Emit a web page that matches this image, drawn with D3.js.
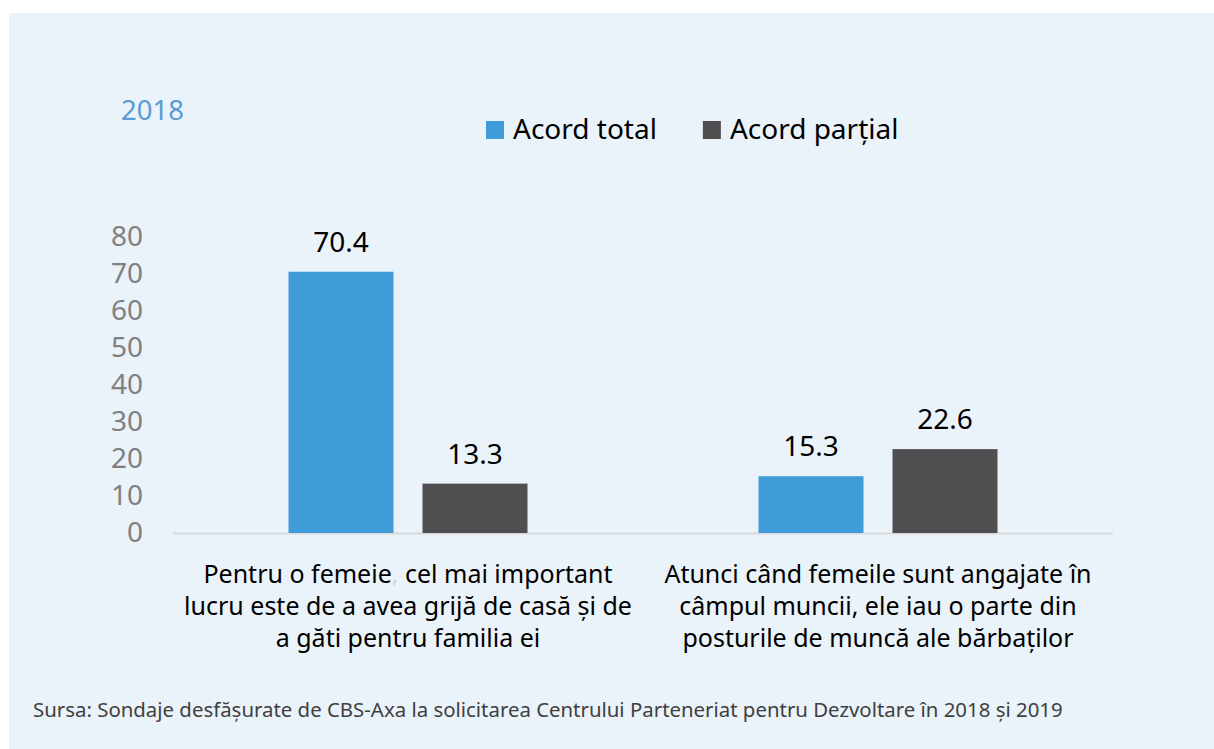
<!DOCTYPE html>
<html>
<head>
<meta charset="utf-8">
<script src="https://cdn.jsdelivr.net/npm/d3@7"></script>
<style>
  body { margin: 0; background: #fff; }
  svg { display: block; font-family: "Noto Sans", sans-serif; }
</style>
</head>
<body>
<div id="chart"></div>
<script>
// data
var categories = ["cat1", "cat2"]
var categoryLines = [
    ["Pentru o femeie, cel mai important", "lucru este de a avea grijă de casă și de", "a găti pentru familia ei"],
    ["Atunci când femeile sunt angajate în", "câmpul muncii, ele iau o parte din", "posturile de muncă ale bărbaților"]
]
var seriesNames = ["Acord total", "Acord parțial"]
var acordTotal = [70.4, 15.3]
var acordPartial = [13.3, 22.6]
var yTicks = [0, 10, 20, 30, 40, 50, 60, 70, 80]
var colors = ["#409cd9", "#4f4f51"]

var W = 1214, H = 749
var svg = d3.select("#chart").append("svg")
    .attr("width", W)
    .attr("height", H)

// panel background
svg.append("rect")
    .attr("x", 9).attr("y", 13)
    .attr("width", W - 9).attr("height", H - 13)
    .attr("fill", "#eaf2fa")

// title
svg.append("text")
    .attr("x", 121).attr("y", 120)
    .style("font-size", "27.5px")
    .attr("fill", "#5b9bd5")
    .text("2018")

// scales
var x0 = d3.scaleBand()
    .domain(categories)
    .range([173, 1113])
    .paddingInner(0.4915)
    .paddingOuter(0.4915 / 2)
var x1 = d3.scaleBand()
    .domain(seriesNames)
    .range([0, x0.bandwidth()])
    .paddingInner(0.2164)
var y = d3.scaleLinear()
    .domain([0, 80])
    .range([533, 236.1])

// y axis
var yAxis = svg.append("g")
    .attr("transform", "translate(146,0)")
    .call(d3.axisLeft(y).tickValues(yTicks).tickSize(0).tickPadding(3))
yAxis.select(".domain").remove()
yAxis.selectAll("text")
    .style("font-family", "Noto Sans")
    .style("font-size", "28px")
    .attr("fill", "#808080")

// baseline
svg.append("line")
    .attr("x1", 173).attr("x2", 1113)
    .attr("y1", y(0) + 0.5).attr("y2", y(0) + 0.5)
    .attr("stroke", "#d9d9d9")
    .attr("stroke-width", 2)

// bars
var rows = categories.map((c, i) => ({
    cat: c,
    values: [
        { name: seriesNames[0], value: acordTotal[i], color: colors[0] },
        { name: seriesNames[1], value: acordPartial[i], color: colors[1] }
    ]
}))

var groups = svg.selectAll(".grp")
    .data(rows)
    .enter().append("g")
    .attr("class", "grp")
    .attr("transform", d => "translate(" + x0(d.cat) + ",0)")

groups.selectAll("rect")
    .data(d => d.values)
    .enter().append("rect")
    .attr("x", d => x1(d.name))
    .attr("y", d => y(d.value))
    .attr("width", x1.bandwidth())
    .attr("height", d => y(0) - y(d.value))
    .attr("fill", d => d.color)

groups.selectAll(".lbl")
    .data(d => d.values)
    .enter().append("text")
    .attr("class", "lbl")
    .attr("x", d => x1(d.name) + x1.bandwidth() / 2)
    .attr("y", d => y(d.value) - 20)
    .attr("text-anchor", "middle")
    .style("font-size", "28px")
    .attr("fill", "#000")
    .text(d => d.value.toFixed(1))

// category labels (the comma in the first label is barely visible in the source)
categories.forEach((c, i) => {
    var t = svg.append("text")
        .attr("text-anchor", "middle")
        .style("font-size", "25px")
        .attr("fill", "#000")
    categoryLines[i].forEach((line, j) => {
        var ts = t.append("tspan")
            .attr("x", x0(c) + x0.bandwidth() / 2)
            .attr("y", 583 + j * 32)
        var parts = line.split(",")
        if (i == 0 && j == 0 && parts.length == 2) {
            ts.append("tspan").text(parts[0])
            ts.append("tspan").attr("fill", "#cfd6de").text(",")
            ts.append("tspan").text(parts[1])
        } else {
            ts.text(line)
        }
    })
})

// legend
var lx = 486
seriesNames.forEach((s, i) => {
    svg.append("rect")
        .attr("x", lx).attr("y", 121)
        .attr("width", 18).attr("height", 18)
        .attr("fill", colors[i])
    var t = svg.append("text")
        .attr("x", lx + 27).attr("y", 139)
        .style("font-size", "28px")
        .attr("fill", "#000")
        .text(s)
    lx = lx + 27 + t.node().getComputedTextLength() + 46
})

// source
svg.append("text")
    .attr("x", 33).attr("y", 717)
    .style("font-size", "20.4px")
    .attr("fill", "#404040")
    .text("Sursa: Sondaje desfășurate de CBS-Axa la solicitarea Centrului Parteneriat pentru Dezvoltare în 2018 și 2019")
</script>
</body>
</html>
